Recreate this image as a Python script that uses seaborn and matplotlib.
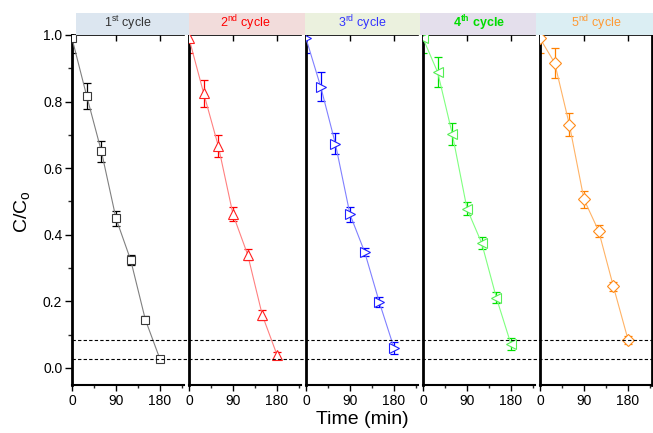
import numpy as np
import matplotlib
matplotlib.use('Agg')
import matplotlib.pyplot as plt
import matplotlib.transforms as mtransforms
from matplotlib.lines import Line2D
from matplotlib.patches import Rectangle
import seaborn as sns

# DATA
time_min = [0, 30, 60, 90, 120, 150, 180]
cycle1 = [0.99, 0.817, 0.651, 0.449, 0.324, 0.145, 0.026]
cycle1_err = [0.045, 0.040, 0.031, 0.022, 0.015, 0.010, 0.008]
cycle2 = [0.99, 0.825, 0.666, 0.461, 0.340, 0.158, 0.039]
cycle2_err = [0.045, 0.040, 0.033, 0.021, 0.016, 0.015, 0.010]
cycle3 = [0.99, 0.845, 0.674, 0.461, 0.348, 0.197, 0.060]
cycle3_err = [0.045, 0.043, 0.032, 0.022, 0.012, 0.015, 0.018]
cycle4 = [0.99, 0.888, 0.702, 0.478, 0.375, 0.211, 0.071]
cycle4_err = [0.045, 0.045, 0.033, 0.020, 0.018, 0.016, 0.018]
cycle5 = [0.99, 0.916, 0.731, 0.506, 0.411, 0.245, 0.085]
cycle5_err = [0.045, 0.045, 0.035, 0.025, 0.019, 0.014, 0.012]
cycle_labels = [r'1$^{\mathrm{st}}$ cycle', r'2$^{\mathrm{nd}}$ cycle', r'3$^{\mathrm{rd}}$ cycle',
                r'4$^{\mathbf{th}}$ cycle', r'5$^{\mathrm{nd}}$ cycle']
ref_levels = [0.026, 0.085]

series = [cycle1, cycle2, cycle3, cycle4, cycle5]
errors = [cycle1_err, cycle2_err, cycle3_err, cycle4_err, cycle5_err]

# STYLE
markers = ['s', '^', '>', '<', 'D']
msizes = [5.5, 7.5, 7.5, 7.5, 6.5]
mk_colors = ['#3a3a3a', '#ff2020', '#2020ff', '#55ee55', '#ff8c1a']
line_colors = ['#808080', '#ff8080', '#8080ff', '#80ff80', '#ffb366']
err_colors = ['#000000', '#ff0000', '#0000ff', '#00e000', '#ff8000']
head_fill = ['#dce6f0', '#f2dcdb', '#ebf1de', '#e4dfec', '#dbeef3']
head_text = ['#333333', '#ff0000', '#3333ff', '#00dd00', '#ff9933']

sns.set_theme(style='ticks')
plt.rcParams['font.family'] = ['Liberation Sans', 'DejaVu Sans']
plt.rcParams['mathtext.fontset'] = 'custom'
plt.rcParams['mathtext.rm'] = 'Liberation Sans'
plt.rcParams['mathtext.bf'] = 'Liberation Sans:bold'
plt.rcParams['mathtext.it'] = 'Liberation Sans:italic'

W, H = 653, 433
fig = plt.figure(figsize=(W / 100, H / 100), dpi=100)

lefts = [72, 189, 306, 423, 540]
pw = 112
top_px, bot_px = 35, 384.6
axes = []
for i in range(5):
    ax = fig.add_axes([lefts[i] / W, (H - bot_px) / H, pw / W, (bot_px - top_px) / H])
    axes.append(ax)

    # CONNECTING LINE + HOLLOW MARKERS
    sns.lineplot(x=time_min, y=series[i], ax=ax, color=line_colors[i], linewidth=0.8,
                 marker=markers[i], markersize=msizes[i], markerfacecolor='white',
                 markeredgecolor=mk_colors[i], markeredgewidth=0.8, zorder=3)
    # ERROR BARS
    ax.errorbar(time_min, series[i], yerr=errors[i], fmt='none', ecolor=err_colors[i],
                elinewidth=0.9, capsize=2.6, capthick=0.9, zorder=2)

    ax.set_xlim(0, 229)
    ax.set_ylim(-0.05, 1.0)
    ax.set_xticks([0, 90, 180])
    ax.set_xticks([45, 135, 225], minor=True)
    ax.set_xlabel('')
    ax.set_ylabel('')
    ax.tick_params(axis='x', which='major', direction='out', length=4.5, width=1,
                   labelsize=10, pad=2, colors='black')
    ax.tick_params(axis='x', which='minor', direction='out', length=2.5, width=1)
    for s in ['left', 'bottom', 'top']:
        ax.spines[s].set_color('black')
    ax.spines['left'].set_linewidth(2.0)
    ax.spines['bottom'].set_linewidth(1.5)
    ax.spines['top'].set_linewidth(1.2)
    ax.spines['right'].set_visible(i == 4)
    ax.spines['right'].set_linewidth(2.0)
    ax.spines['right'].set_color('black')

    # INWARD TICKS ON TOP
    sec = ax.secondary_xaxis('top')
    sec.set_xticks([0, 90, 180])
    sec.tick_params(direction='in', length=4, width=1, labeltop=False, colors='black')
    sec.spines['top'].set_visible(False)

    if i == 0:
        ax.set_yticks([0.0, 0.2, 0.4, 0.6, 0.8, 1.0])
        ax.set_yticks([0.1, 0.3, 0.5, 0.7, 0.9], minor=True)
        ax.set_yticklabels(['0.0', '0.2', '0.4', '0.6', '0.8', '1.0'])
        ax.tick_params(axis='y', which='major', direction='out', length=5, width=1,
                       labelsize=10, pad=2, colors='black')
        ax.tick_params(axis='y', which='minor', direction='out', length=3, width=1)
    else:
        ax.set_yticks([])
        ax.tick_params(axis='y', which='both', left=False)

    # HEADER STRIP
    edges = [76, 189, 305, 420, 536, 653]
    fig.patches.append(Rectangle((edges[i] / W, (H - 35) / H), (edges[i + 1] - edges[i]) / W, 22 / H,
                                 transform=fig.transFigure, facecolor=head_fill[i],
                                 edgecolor='none', zorder=0))
    fig.text((lefts[i] + pw / 2) / W, (H - 23) / H, cycle_labels[i], ha='center', va='center',
             fontsize=9, color=head_text[i], fontweight='bold' if i == 3 else 'normal')

# DASHED REFERENCE LINES ACROSS ALL PANELS
trans = mtransforms.blended_transform_factory(fig.transFigure, axes[0].transData)
for lvl in ref_levels:
    fig.add_artist(Line2D([lefts[0] / W, 652 / W], [lvl, lvl], transform=trans,
                          color='black', linestyle=(0, (3, 2)), linewidth=0.8, zorder=5))

fig.text(22 / W, (H - 212) / H, r'C/C$_{\mathrm{o}}$', rotation=90, ha='center', va='center',
         fontsize=14, color='black')
fig.text(362 / W, (H - 420) / H, 'Time (min)', ha='center', va='center', fontsize=14,
         color='black')

fig.savefig('out.png', dpi=100)
